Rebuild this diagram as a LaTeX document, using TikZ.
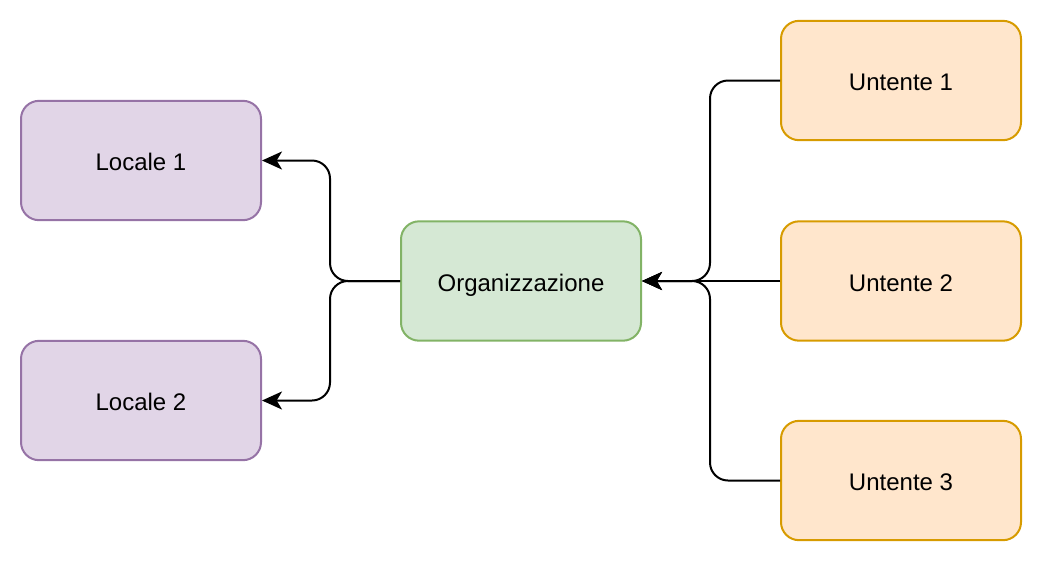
\documentclass[tikz,border=0pt]{standalone}
\usepackage{fontspec}
\setmainfont{Liberation Sans}
\usetikzlibrary{arrows.meta}
\definecolor{purpfill}{HTML}{E1D5E7}
\definecolor{purpdraw}{HTML}{9673A6}
\definecolor{greenfill}{HTML}{D5E8D4}
\definecolor{greendraw}{HTML}{82B366}
\definecolor{orfill}{HTML}{FFE6CC}
\definecolor{ordraw}{HTML}{D79B00}
\tikzset{
  box/.style={rectangle, rounded corners=13.5pt, line width=1.5pt, minimum width=180pt, minimum height=89.5pt, font=\fontsize{18}{21}\selectfont, inner sep=0pt, text height=12.9pt, text depth=0pt},
  locbox/.style={box, fill=purpfill, draw=purpdraw},
  orgbox/.style={box, fill=greenfill, draw=greendraw},
  userbox/.style={box, fill=orfill, draw=ordraw},
  lbl/.style={font=\fontsize{18}{21}\selectfont, inner sep=0pt, text height=12.9pt, text depth=0pt},
  conn/.style={line width=1.5pt, rounded corners=13.5pt, -{Stealth[length=15pt, width=13.5pt, inset=4pt]}}
}
\begin{document}
\begin{tikzpicture}[x=0.75pt, y=-0.75pt]
\useasboundingbox (0,0) rectangle (1042,562);
\node[locbox] (l1) at (141,160.5) {};
\node[locbox] (l2) at (141,400.5) {};
\node[orgbox] (org) at (521,281) {};
\node[userbox] (u1) at (901,80.5) {};
\node[userbox] (u2) at (901,281) {};
\node[userbox] (u3) at (901,480.5) {};
\node[lbl] (t1) at ([yshift=-1.2pt]l1.center) {Locale 1};
\node[lbl] (t2) at ([yshift=-1.2pt]l2.center) {Locale 2};
\node[lbl] (t3) at ([yshift=-1.2pt]org.center) {Organizzazione};
\node[lbl] (t4) at ([yshift=-1.2pt]u1.center) {Untente 1};
\node[lbl] (t5) at ([yshift=-1.2pt]u2.center) {Untente 2};
\node[lbl] (t6) at ([yshift=-1.2pt]u3.center) {Untente 3};
\draw[conn] (org.west) -- ++(-70,0) |- (l1.east);
\draw[conn] (org.west) -- ++(-70,0) |- (l2.east);
\draw[conn] (u1.west) -- ++(-70,0) |- (org.east);
\draw[conn] (u2.west) -- (org.east);
\draw[conn] (u3.west) -- ++(-70,0) |- (org.east);
\end{tikzpicture}
\end{document}
